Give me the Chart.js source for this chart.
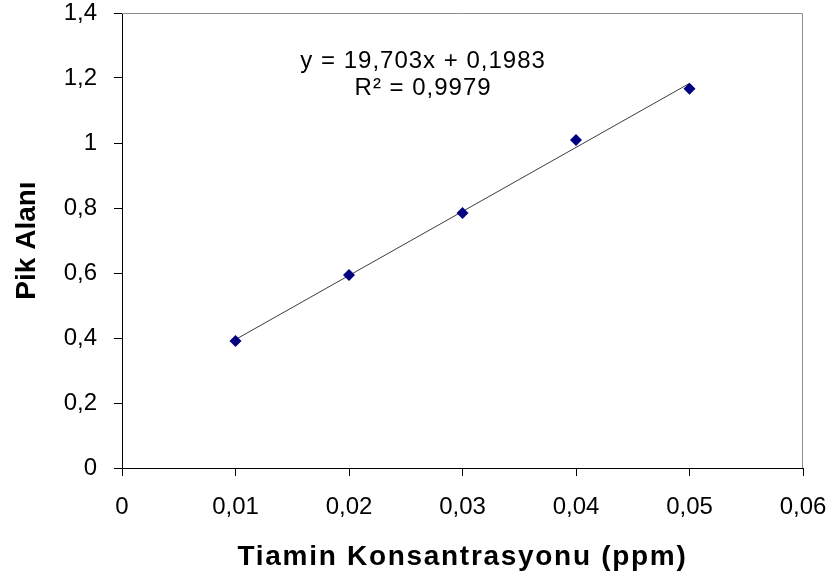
<!DOCTYPE html>
<html>
<head>
<meta charset="utf-8">
<script src="https://cdn.jsdelivr.net/npm/chart.js@4/dist/chart.umd.min.js"></script>
<style>
html,body{margin:0;padding:0;background:#fff;}
#wrap{width:834px;height:581px;position:relative;}
</style>
</head>
<body>
<div id="wrap"><canvas id="c" width="834" height="581"></canvas></div>
<script>
const concentrations = [0.01, 0.02, 0.03, 0.04, 0.05];
const peakAreas = [0.391, 0.594, 0.785, 1.009, 1.167];
const trendX = [0.01, 0.05];
const trendY = [0.3953, 1.1835];
const equationLines = ['y = 19,703x + 0,1983', 'R² = 0,9979'];
const equationPos = {x: 0.02653, y: [1.2308, 1.1477]};
const xTitle = 'Tiamin Konsantrasyonu (ppm)';
const yTitle = 'Pik Alanı';

const fmt = v => String(Math.round(v*1000)/1000).replace('.', ',');
const FONT = '"Liberation Sans", Arial, sans-serif';

const extras = {
  id: 'extras',
  afterDraw(chart) {
    const {ctx, chartArea: a, scales} = chart;
    ctx.save();
    ctx.strokeStyle = '#8c8c8c';
    ctx.lineWidth = 1;
    ctx.beginPath();
    ctx.moveTo(a.left, a.top + 0.5);
    ctx.lineTo(a.right - 0.5, a.top + 0.5);
    ctx.lineTo(a.right - 0.5, a.bottom);
    ctx.stroke();
    ctx.fillStyle = '#000';
    ctx.font = '24px ' + FONT;
    ctx.textAlign = 'center';
    ctx.textBaseline = 'alphabetic';
    try { ctx.letterSpacing = '1px'; } catch(e) {}
    const ex = scales.x.getPixelForValue(equationPos.x);
    equationLines.forEach((t, i) => {
      ctx.fillText(t, ex, scales.y.getPixelForValue(equationPos.y[i]));
    });
    ctx.font = 'bold 28px ' + FONT;
    try { ctx.letterSpacing = '1.7px'; } catch(e) {}
    ctx.fillText(xTitle, (a.left + a.right) / 2, 565);
    try { ctx.letterSpacing = '0px'; } catch(e) {}
    ctx.translate(35, (a.top + a.bottom) / 2);
    ctx.rotate(-Math.PI / 2);
    ctx.fillText(yTitle, 0, 0);
    ctx.restore();
  }
};

new Chart(document.getElementById('c'), {
  data: {
    datasets: [
      {
        type: 'line',
        data: trendX.map((x, i) => ({x, y: trendY[i]})),
        borderColor: '#3c3c3c',
        borderWidth: 1,
        pointRadius: 0,
        fill: false,
        order: 2
      },
      {
        type: 'scatter',
        data: concentrations.map((x, i) => ({x, y: peakAreas[i]})),
        pointStyle: 'rectRot',
        pointRadius: 6,
        backgroundColor: '#000080',
        borderColor: '#000080',
        borderWidth: 0,
        order: 1
      }
    ]
  },
  options: {
    responsive: false,
    animation: false,
    layout: {padding: {left: 0, right: 31, top: 13, bottom: 0}},
    plugins: {legend: {display: false}, tooltip: {enabled: false}},
    scales: {
      x: {
        type: 'linear',
        min: 0, max: 0.06,
        ticks: {stepSize: 0.01, callback: v => fmt(v), color: '#000',
          font: {family: FONT, size: 24}, padding: 17, maxRotation: 0},
        grid: {drawOnChartArea: false, drawTicks: true, tickLength: 8, color: '#000'},
        border: {color: '#000', width: 1},
        afterFit(s) { s.height = 113; s.paddingLeft = 0; s.paddingRight = 0; }
      },
      y: {
        type: 'linear',
        min: 0, max: 1.4,
        ticks: {stepSize: 0.2, callback: v => fmt(v), color: '#000',
          font: {family: FONT, size: 24}, padding: 17},
        grid: {drawOnChartArea: false, drawTicks: true, tickLength: 8, color: '#000'},
        border: {color: '#000', width: 1},
        afterFit(s) { s.width = 122; s.paddingTop = 0; s.paddingBottom = 0; }
      }
    }
  },
  plugins: [extras]
});
</script>
</body>
</html>
